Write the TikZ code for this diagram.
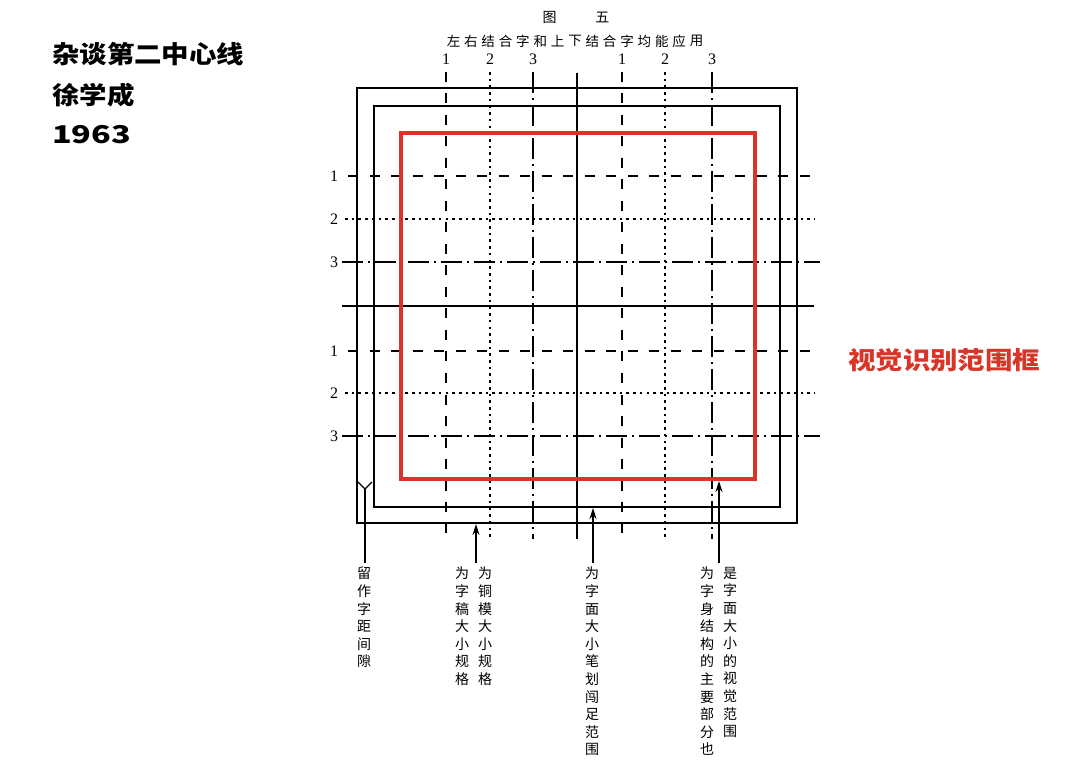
\documentclass[tikz,border=0pt]{standalone}
\usepackage{fontspec}
\setmainfont{Liberation Serif}
\newfontfamily\cjk{Noto Sans CJK SC}
\newfontfamily\cjkwide[FakeStretch=1.12]{Noto Sans CJK SC}
\usetikzlibrary{arrows.meta}
\definecolor{frred}{RGB}{216,52,40}
\begin{document}
\begin{tikzpicture}[x=1pt,y=-1pt,
  frame/.style={line width=1.5pt},
  redframe/.style={line width=4pt, draw=frred},
  solidl/.style={line width=1.3pt},
  dashl/.style={line width=1.5pt, dash pattern=on 10pt off 11.5pt},
  dotl/.style={line width=2.8pt, line cap=butt, dash pattern=on 2.6pt off 4.1pt},
  dashdotl/.style={line width=1.3pt, dash pattern=on 21pt off 5pt on 2pt off 5pt},
  numlab/.style={font=\fontsize{16}{16}\selectfont, inner sep=0pt},
  vtext/.style={font=\cjk\fontsize{14}{17.6}\selectfont, align=center, inner sep=0pt, anchor=north},
  headtext/.style={font=\cjkwide\bfseries\fontsize{24.5}{24.5}\selectfont, inner sep=0pt, anchor=west},
  pointer/.style={line width=1.4pt, -{Stealth[length=11pt,width=7pt]}},
]
\useasboundingbox[fill=white] (0,0) rectangle (1080,778);

% vertical guide lines
\draw[dashl] (446,72) -- (446,533);
\draw[dotl] (490,72) -- (490,537);
\draw[dashdotl] (533,72) -- (533,539);
\draw[solidl] (577,73) -- (577,539);
\draw[dashl] (622,72) -- (622,533);
\draw[dotl] (665,72) -- (665,537);
\draw[dashdotl] (712,72) -- (712,539);

% horizontal guide lines
\draw[dashl] (348,176) -- (815,176);
\draw[dotl] (345,219) -- (815,219);
\draw[dashdotl] (342,262) -- (820,262);
\draw[solidl] (342,306) -- (814,306);
\draw[dashl] (348,351) -- (815,351);
\draw[dotl] (345,393) -- (815,393);
\draw[dashdotl] (342,436) -- (820,436);

% frames
\draw[frame] (357,88) rectangle (797,523);
\draw[frame] (374,106) rectangle (780,507);
\draw[redframe] (401,133) rectangle (755,479);

% number labels
\node[numlab] (t1) at (446,59) {1};
\node[numlab] (t2) at (490,59) {2};
\node[numlab] (t3) at (533,59) {3};
\node[numlab] (t4) at (622,59) {1};
\node[numlab] (t5) at (665,59) {2};
\node[numlab] (t6) at (712,59) {3};
\node[numlab] (l1) at (334,176) {1};
\node[numlab] (l2) at (334,219) {2};
\node[numlab] (l3) at (334,262) {3};
\node[numlab] (l4) at (334,351) {1};
\node[numlab] (l5) at (334,393) {2};
\node[numlab] (l6) at (334,436) {3};

% titles
\node[font=\cjk\fontsize{14}{14}\selectfont, inner sep=0pt] (title) at (576,17) {图\hspace{39pt}五};
\foreach \c [count=\i] in {左,右,结,合,字,和,上,下,结,合,字,均,能,应,用}
  \node[font=\cjk\fontsize{13.5}{13.5}\selectfont, inner sep=0pt] (sub\i) at ({453.5+(\i-1)*17.36},41) {\c};

% left heading
\node[headtext] (h1) at (52,54) {杂谈第二中心线};
\node[headtext] (h2) at (52,95) {徐学成};
\node[headtext] (h3) at (52,135) {\scalebox{1.18}[1]{1963}};

% red label
\node[headtext, text=frred] (redlab) at (848,360) {视觉识别范围框};

% pointers
\coordinate (yL) at (358,482);
\coordinate (yR) at (372,482);
\coordinate (yJ) at (365,489);
\coordinate (yS) at (365,563);
\draw[solidl] (yL) -- (yJ) -- (yR);
\draw[solidl] (yJ) -- (yS);

\coordinate (aS1) at (476,563);
\coordinate (aT1) at (476,524);
\draw[pointer] (aS1) -- (aT1);
\coordinate (aS2) at (593,563);
\coordinate (aT2) at (593,508);
\draw[pointer] (aS2) -- (aT2);
\coordinate (aS3) at (719,563);
\coordinate (aT3) at (719,481);
\draw[pointer] (aS3) -- (aT3);

% vertical captions
\node[vtext] (c1) at (364,567) {留\\作\\字\\距\\间\\隙};
\node[vtext] (c2) at (462,567) {为\\字\\稿\\大\\小\\规\\格};
\node[vtext] (c3) at (485,567) {为\\铜\\模\\大\\小\\规\\格};
\node[vtext] (c4) at (592,567) {为\\字\\面\\大\\小\\笔\\划\\闯\\足\\范\\围};
\node[vtext] (c5) at (707,567) {为\\字\\身\\结\\构\\的\\主\\要\\部\\分\\也};
\node[vtext] (c6) at (730,567) {是\\字\\面\\大\\小\\的\\视\\觉\\范\\围};
\end{tikzpicture}
\end{document}
